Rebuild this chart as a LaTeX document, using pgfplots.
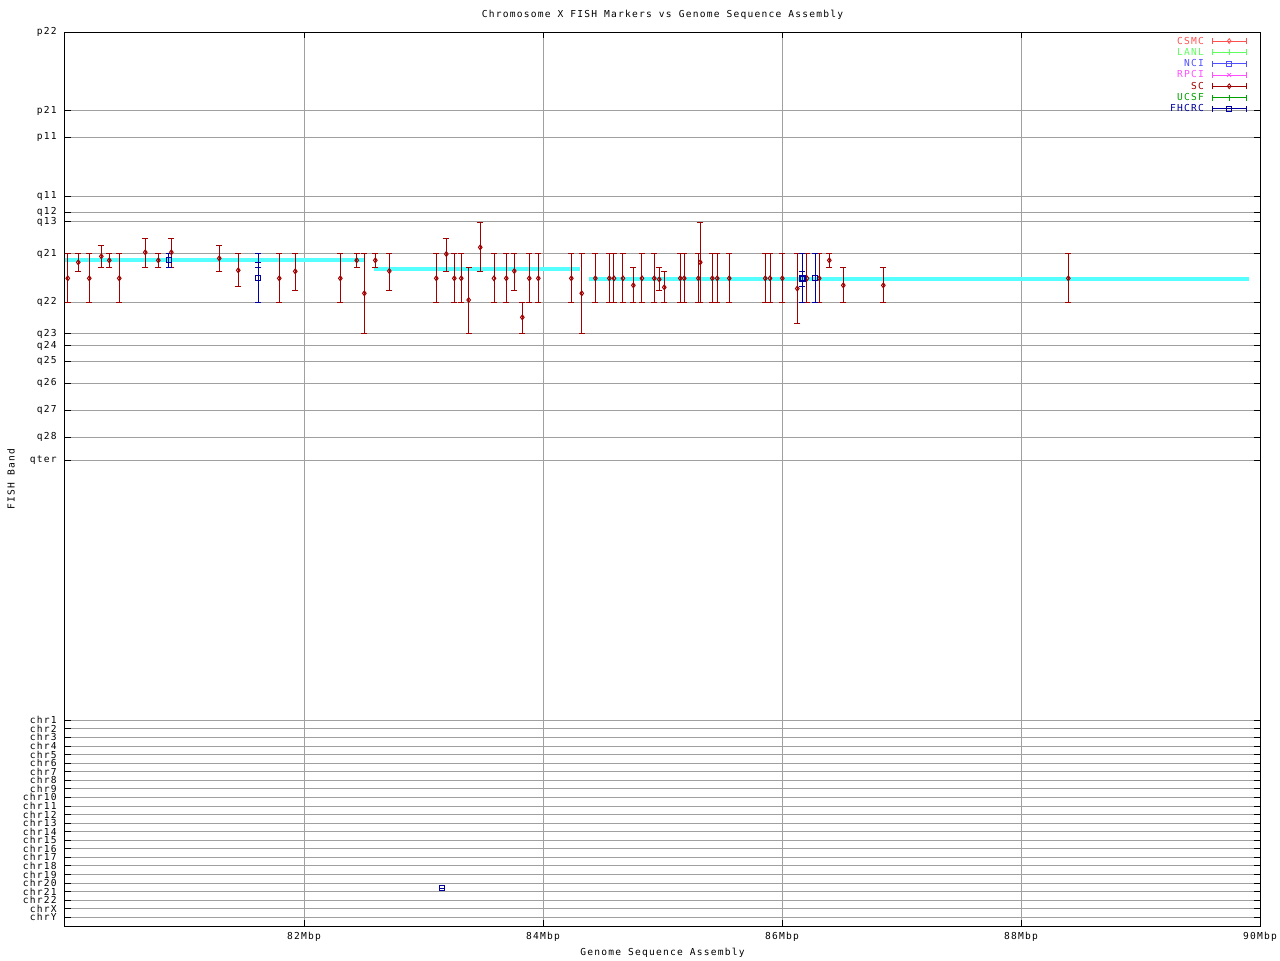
\documentclass[border=0pt]{standalone}
\usepackage{fontspec}
\setmainfont[LetterSpace=12.7]{DejaVu Sans Mono}
\usepackage{pgfplots}
\pgfplotsset{compat=1.18}
\usepackage{pgfplotstable}

\definecolor{csmc}{RGB}{255,80,80}
\definecolor{lanl}{RGB}{96,255,96}
\definecolor{nci}{RGB}{80,80,255}
\definecolor{rpci}{RGB}{255,80,255}
\definecolor{scc}{RGB}{160,0,0}
\definecolor{ucsf}{RGB}{0,160,0}
\definecolor{fhcrc}{RGB}{0,0,160}
\definecolor{band}{RGB}{85,255,255}
\definecolor{gridc}{RGB}{160,160,160}

% SC markers: x (Mbp), y (band position), error plus (down), error minus (up)
\pgfplotstableread{
x y ep em
80.023 278.3 24 25
80.111 262.3 8.7 9
80.203 278.3 24 25
80.304 256.3 11 11
80.371 260.3 7 7
80.454 278.3 24 25
80.672 252.3 15 14
80.781 260.3 7 7
80.890 252.3 15 14
81.291 258.3 12.7 13
81.450 270.3 15.7 17
81.793 278.3 24 25
81.927 271.3 19 18
82.304 278.3 24 25
82.441 260.3 7 7
82.505 293.3 40 40
82.597 260.3 7 7
82.714 271 19 17.7
83.107 278.3 24 25
83.191 254 17.3 15.7
83.258 278.3 24 25
83.316 278.3 24 25
83.378 300 33.3 32.7
83.475 247.3 24 25
83.590 278.3 24 25
83.693 278.3 24 25
83.760 271 19 17.7
83.827 317.3 16 15
83.885 278.3 24 25
83.961 278.3 24 25
84.237 278.3 24 25
84.324 293.3 40 40
84.438 278.3 24 25
84.555 278.3 24 25
84.594 278.3 24 25
84.669 278.3 24 25
84.756 285.3 17 18
84.828 278.3 24 25
84.931 278.3 24 25
84.973 279.3 11 12
85.015 287.3 15 16
85.149 278.3 24 25
85.182 278.3 24 25
85.300 278.3 24 25
85.316 262.3 40 40
85.417 278.3 24 25
85.458 278.3 24 25
85.559 278.3 24 25
85.860 278.3 24 25
85.900 278.3 24 25
86.003 278.3 24 25
86.128 288.5 34.8 35.2
86.209 278.3 24 25
86.312 278.3 24 25
86.396 260.3 7 7
86.513 285.3 17 18
86.848 285.3 17 18
88.396 278.3 24 25
}\scdata

\pgfplotstableread{
x y ep em
80.868 260.3 7 7
81.618 278.3 24 25
86.279 278.3 24 25
}\fhdata

\begin{document}
\fontsize{4.8}{5.6}\selectfont
\begin{tikzpicture}[font=\fontsize{4.8}{5.6}\selectfont]
\useasboundingbox (-32.5pt,-17pt) rectangle (607.5pt,463pt);
\begin{axis}[
  at={(0,0)}, anchor=south west,
  scale only axis, width=597.5pt, height=447pt,
  xmin=80, xmax=90, ymin=32, ymax=926, y dir=reverse,
  xtick={82,84,86,88,90},
  xticklabels={82Mbp,84Mbp,86Mbp,88Mbp,90Mbp},
  ytick={32,110.5,137,196.5,212,221.5,253.5,302.3,333.5,345.7,361.2,383,410,437.3,460.3,
         720.3,728.9,737.4,746.0,754.6,763.1,771.7,780.3,788.8,797.4,806.0,814.5,823.1,831.7,840.2,848.8,857.3,865.9,874.5,883.0,891.6,900.2,908.7,917.3},
  yticklabels={p22,p21,p11,q11,q12,q13,q21,q22,q23,q24,q25,q26,q27,q28,qter,
         chr1,chr2,chr3,chr4,chr5,chr6,chr7,chr8,chr9,chr10,chr11,chr12,chr13,chr14,chr15,chr16,chr17,chr18,chr19,chr20,chr21,chr22,chrX,chrY},
  grid=major,
  major grid style={gridc, line width=0.5pt},
  axis line style={black, line width=0.5pt},
  tick pos=both, tick align=inside,
  major tick length=2.9pt,
  major tick style={black, line width=0.5pt},
  xticklabel style={anchor=center, yshift=-5.5pt},
  yticklabel style={anchor=east, inner sep=0pt, xshift=-4pt},
  every axis title shift=0pt,
  title={Chromosome X FISH Markers vs Genome Sequence Assembly},
  title style={at={(axis description cs:0.5,1)}, anchor=center, yshift=8.5pt},
  xlabel={Genome Sequence Assembly},
  xlabel style={at={(axis description cs:0.5,0)}, anchor=center, yshift=-13.5pt},
  ylabel={FISH Band},
  ylabel style={at={(axis description cs:-0.0452,0.5)}, anchor=center},
  legend plot pos=right,
  legend cell align=right,
  legend style={at={(1,1)}, anchor=north east, xshift=-6.5pt, yshift=-1.5pt,
    draw=none, fill=none, inner sep=0pt, column sep=4pt, row sep=0pt,
    nodes={inner sep=0pt, text height=4.3pt, text depth=1.35pt}},
  legend image code/.code={
    \draw[#1, mark=none, solid] (0pt,0pt) -- (17pt,0pt);
    \draw[#1, mark=none, solid] (0pt,-1.5pt) -- (0pt,1.5pt);
    \draw[#1, mark=none, solid] (17pt,-1.5pt) -- (17pt,1.5pt);
    \draw[#1] plot coordinates {(8.5pt,0pt)};
  },
  error bars/error bar style={line width=0.5pt, solid},
  error bars/error mark options={line width=0.5pt, mark size=1.5pt, rotate=90},
]
% assembly bands
\addplot[band, line width=2pt, forget plot] coordinates {(80,259.7) (82.51,259.7)};
\addplot[band, line width=2pt, forget plot] coordinates {(82.586,269) (84.31,269)};
\addplot[band, line width=2pt, forget plot] coordinates {(84.385,279) (89.908,279)};

% SC markers
\addplot[scc, only marks, mark=diamond, mark size=1.2pt, mark options={fill=white, line width=0.5pt}, forget plot,
  error bars/.cd, y dir=both, y explicit]
  table[x=x, y=y, y error plus=ep, y error minus=em] {\scdata};
% FHCRC short inner bars (no marker)
\addplot[fhcrc, mark=none, forget plot, error bars/.cd, y dir=both, y explicit]
  coordinates {(81.618,264.8) +- (0,2.5)};
\addplot[fhcrc, mark=none, forget plot, error bars/.cd, y dir=both, y explicit]
  coordinates {(86.170,278.8) +- (0,7.5)};
% FHCRC markers
\addplot[fhcrc, only marks, mark=square, mark size=1.25pt, mark options={fill=white, line width=0.5pt}, forget plot,
  error bars/.cd, y dir=both, y explicit]
  table[x=x, y=y, y error plus=ep, y error minus=em] {\fhdata};
\addplot[fhcrc, only marks, mark=square, mark size=1.25pt, mark options={fill=white, line width=1pt}, forget plot,
  error bars/.cd, y dir=both, y explicit]
  coordinates {(86.170,278.3) +- (0,24.5)};
% FHCRC marker on other chromosome
\addplot[fhcrc, only marks, mark=square, mark size=1.25pt, mark options={fill=white, line width=0.5pt}, forget plot]
  coordinates {(83.157,888.3)};
\addplot[fhcrc, only marks, mark=-, mark size=1.25pt, mark options={line width=0.5pt}, forget plot]
  coordinates {(83.157,888.3)};

% legend
\addlegendimage{csmc, mark=diamond, mark size=1.2pt, mark options={fill=white}}
\addlegendentry{\textcolor{csmc}{CSMC}}
\addlegendimage{lanl, mark=|, mark size=1.5pt}
\addlegendentry{\textcolor{lanl}{LANL}}
\addlegendimage{nci, mark=square, mark size=1.25pt, mark options={fill=white}}
\addlegendentry{\textcolor{nci}{NCI}}
\addlegendimage{rpci, mark=x, mark size=1.25pt}
\addlegendentry{\textcolor{rpci}{RPCI}}
\addlegendimage{scc, mark=diamond, mark size=1.2pt, mark options={fill=white}}
\addlegendentry{\textcolor{scc}{SC}}
\addlegendimage{ucsf, mark=|, mark size=1.5pt}
\addlegendentry{\textcolor{ucsf}{UCSF}}
\addlegendimage{fhcrc, mark=square, mark size=1.25pt, mark options={fill=white}}
\addlegendentry{\textcolor{fhcrc}{FHCRC}}
\end{axis}
\end{tikzpicture}
\end{document}
